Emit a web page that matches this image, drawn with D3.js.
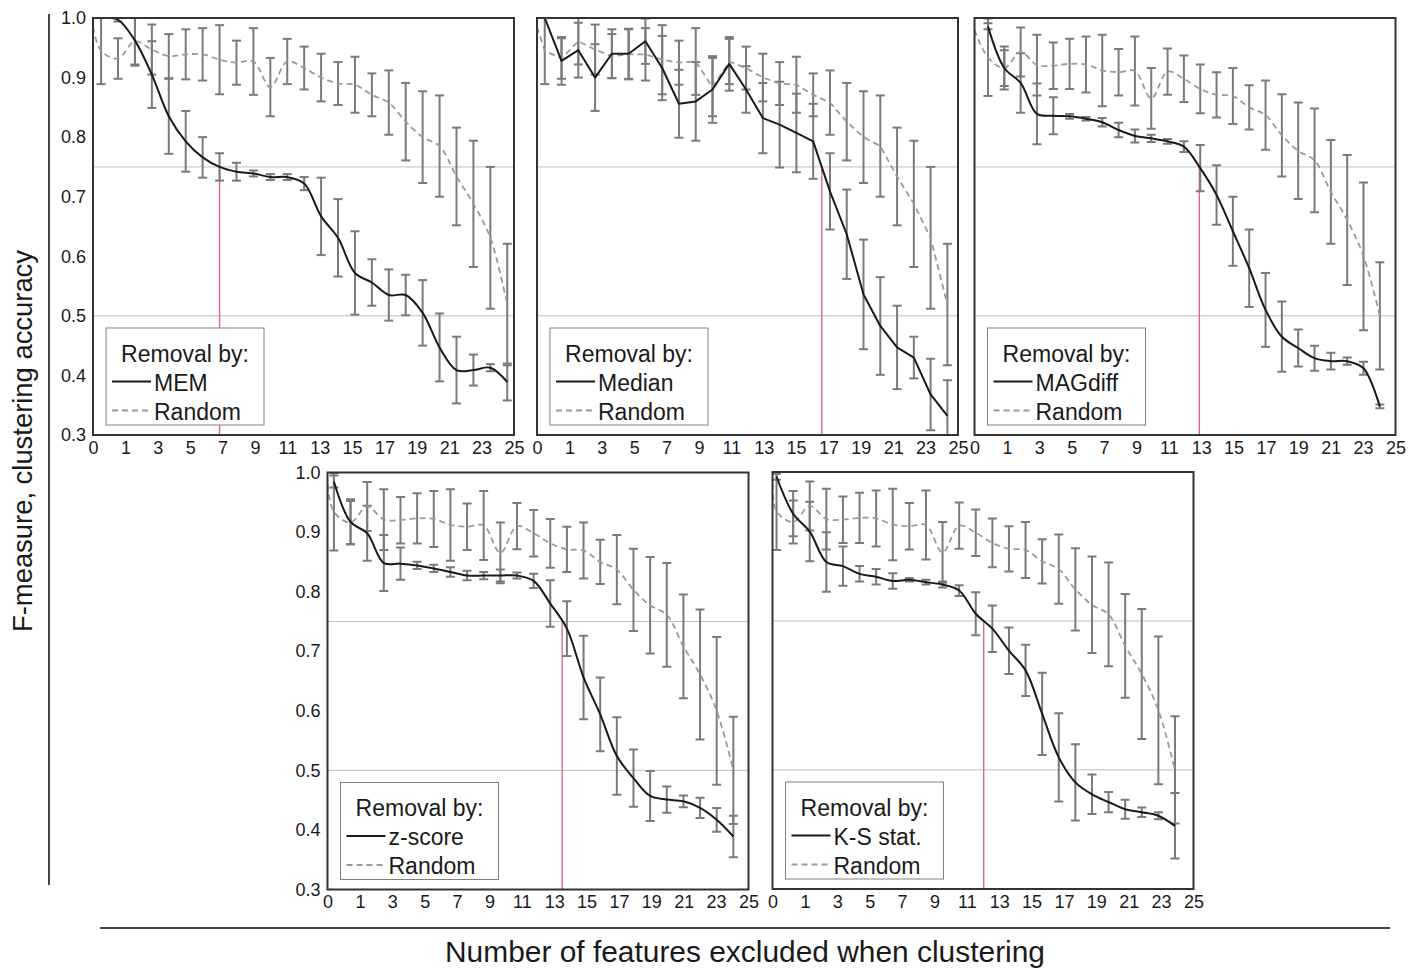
<!DOCTYPE html>
<html>
<head>
<meta charset="utf-8">
<script src="https://cdn.jsdelivr.net/npm/d3@7"></script>
<style>
  html, body { margin: 0; padding: 0; background: #fff; }
  svg { display: block; font-family: "Liberation Sans", Arial, Helvetica, sans-serif; }
</style>
</head>
<body>
<svg id="chart" width="1423" height="969"></svg>
<script>
// ---- data -------------------------------------------------------------
const featuresExcluded = [0, 1, 2, 3, 4, 5, 6, 7, 8, 9, 10, 11, 12, 13, 14, 15, 16, 17, 18, 19, 20, 21, 22, 23, 24];
const xTickLabels = ["0", "1", "3", "5", "7", "9", "11", "13", "15", "17", "19", "21", "23", "25"];
const yTickValues = [0.3, 0.4, 0.5, 0.6, 0.7, 0.8, 0.9, 1.0];
const referenceLevels = [0.75, 0.5];
const cutoffLevel = 0.75;

const methodNames = ["MEM", "Median", "MAGdiff", "z-score", "K-S stat."];

// random removal, run used alongside MEM and Median
const randomA      = [0.945, 0.932, 0.961, 0.947, 0.936, 0.939, 0.939, 0.930, 0.925, 0.927, 0.884, 0.927, 0.916, 0.900, 0.890, 0.888, 0.871, 0.858, 0.826, 0.800, 0.785, 0.734, 0.688, 0.631, 0.519];
const randomAErr   = [0.056, 0.034, 0.039, 0.042, 0.037, 0.042, 0.044, 0.058, 0.037, 0.056, 0.049, 0.038, 0.036, 0.040, 0.036, 0.047, 0.036, 0.054, 0.065, 0.077, 0.085, 0.082, 0.106, 0.119, 0.102];
const randomAStart = 0.985;

// random removal, run used alongside MAGdiff, z-score and K-S stat.
const randomB      = [0.934, 0.916, 0.943, 0.921, 0.920, 0.923, 0.922, 0.912, 0.909, 0.911, 0.865, 0.910, 0.898, 0.881, 0.871, 0.869, 0.850, 0.837, 0.803, 0.777, 0.761, 0.708, 0.661, 0.600, 0.500];
const randomBErr   = [0.065, 0.036, 0.041, 0.051, 0.039, 0.042, 0.047, 0.060, 0.039, 0.058, 0.051, 0.039, 0.039, 0.041, 0.038, 0.047, 0.037, 0.058, 0.069, 0.081, 0.087, 0.087, 0.109, 0.124, 0.090];
const randomBStart = 0.980;

const mem        = [1.000, 0.997, 0.962, 0.905, 0.835, 0.793, 0.766, 0.750, 0.742, 0.739, 0.733, 0.733, 0.722, 0.667, 0.631, 0.572, 0.556, 0.535, 0.535, 0.505, 0.447, 0.409, 0.409, 0.413, 0.389];
const memErr     = [0.000, 0.003, 0.042, 0.056, 0.063, 0.051, 0.034, 0.023, 0.015, 0.005, 0.005, 0.005, 0.011, 0.065, 0.065, 0.070, 0.039, 0.043, 0.034, 0.055, 0.057, 0.056, 0.026, 0.006, 0.031];

const median     = [1.000, 0.928, 0.946, 0.900, 0.940, 0.940, 0.961, 0.916, 0.856, 0.860, 0.880, 0.923, 0.880, 0.832, 0.821, 0.807, 0.793, 0.709, 0.637, 0.536, 0.483, 0.447, 0.430, 0.368, 0.332];
const medianErr  = [0.000, 0.040, 0.046, 0.056, 0.041, 0.042, 0.038, 0.054, 0.057, 0.066, 0.056, 0.045, 0.039, 0.059, 0.072, 0.066, 0.063, 0.064, 0.075, 0.092, 0.082, 0.070, 0.035, 0.060, 0.060];

const magdiff    = [0.986, 0.916, 0.891, 0.839, 0.836, 0.835, 0.831, 0.825, 0.812, 0.802, 0.798, 0.793, 0.784, 0.748, 0.703, 0.642, 0.580, 0.510, 0.465, 0.446, 0.429, 0.424, 0.424, 0.412, 0.348];
const magdiffErr = [0.005, 0.030, 0.050, 0.051, 0.031, 0.004, 0.003, 0.007, 0.012, 0.011, 0.006, 0.004, 0.009, 0.039, 0.050, 0.058, 0.065, 0.062, 0.059, 0.031, 0.021, 0.014, 0.006, 0.011, 0.003];

const zscore     = [0.985, 0.917, 0.898, 0.848, 0.847, 0.844, 0.839, 0.833, 0.827, 0.827, 0.827, 0.827, 0.818, 0.780, 0.738, 0.656, 0.594, 0.524, 0.487, 0.457, 0.451, 0.448, 0.437, 0.417, 0.389];
const zscoreErr  = [0.010, 0.038, 0.046, 0.047, 0.027, 0.006, 0.006, 0.008, 0.008, 0.006, 0.010, 0.005, 0.012, 0.039, 0.046, 0.070, 0.062, 0.065, 0.048, 0.042, 0.022, 0.010, 0.017, 0.020, 0.035];

const ksstat     = [0.992, 0.930, 0.900, 0.849, 0.842, 0.829, 0.824, 0.817, 0.819, 0.815, 0.811, 0.801, 0.762, 0.737, 0.700, 0.667, 0.594, 0.521, 0.479, 0.459, 0.446, 0.434, 0.429, 0.423, 0.406];
const ksstatErr  = [0.005, 0.038, 0.050, 0.050, 0.033, 0.013, 0.013, 0.013, 0.003, 0.004, 0.005, 0.009, 0.036, 0.039, 0.039, 0.043, 0.069, 0.074, 0.064, 0.033, 0.017, 0.016, 0.008, 0.006, 0.055];

// ---- layout -----------------------------------------------------------
const W = 421, H = 417;
const C = {
  frame: "#333", text: "#1a1a1a", method: "#1a1a1a", random: "#9a9a9a",
  errbar: "#7a7a7a", grid: "#bdbdbd", cutoff: "#e0607a", legendEdge: "#808080"
};

const panels = [
  { name: methodNames[0], values: mem,     err: memErr,     rnd: randomA, rndErr: randomAErr, rndStart: randomAStart, left: 93,    top: 18,    span: [0.48, 24.6],  yAxis: true,  smooth: true },
  { name: methodNames[1], values: median,  err: medianErr,  rnd: randomA, rndErr: randomAErr, rndStart: randomAStart, left: 537,   top: 18,    span: [0.46, 24.37], yAxis: false, smooth: false },
  { name: methodNames[2], values: magdiff, err: magdiffErr, rnd: randomB, rndErr: randomBErr, rndStart: randomBStart, left: 974.5, top: 18,    span: [0.80, 24.07], yAxis: false, smooth: true },
  { name: methodNames[3], values: zscore,  err: zscoreErr,  rnd: randomB, rndErr: randomBErr, rndStart: randomBStart, left: 327.5, top: 472.5, span: [0.38, 24.1],  yAxis: true,  smooth: true },
  { name: methodNames[4], values: ksstat,  err: ksstatErr,  rnd: randomB, rndErr: randomBErr, rndStart: randomBStart, left: 772.5, top: 472,   span: [0.24, 23.9],  yAxis: false, smooth: true }
];

const svg = d3.select("#chart");

// shared outer axis titles and rules
svg.append("line").attr("x1", 49).attr("x2", 49).attr("y1", 14).attr("y2", 885)
  .attr("stroke", "#444").attr("stroke-width", 2);
svg.append("line").attr("x1", 100).attr("x2", 1390).attr("y1", 928).attr("y2", 928)
  .attr("stroke", "#444").attr("stroke-width", 2);

svg.append("text")
  .attr("transform", "translate(32,441) rotate(-90)")
  .attr("text-anchor", "middle")
  .attr("font-size", 28).attr("fill", C.text)
  .attr("textLength", 382).attr("lengthAdjust", "spacingAndGlyphs")
  .text("F-measure, clustering accuracy");

svg.append("text")
  .attr("x", 745).attr("y", 962)
  .attr("text-anchor", "middle")
  .attr("font-size", 30).attr("fill", C.text)
  .attr("textLength", 600).attr("lengthAdjust", "spacingAndGlyphs")
  .text("Number of features excluded when clustering");

// first crossing of the method curve below the cutoff level (interpolated position)
function crossing(vals, level) {
  for (let k = 0; k < vals.length - 1; k++) {
    if (vals[k] >= level && vals[k + 1] < level) {
      const t = (vals[k] - level) / (vals[k] - vals[k + 1]);
      return featuresExcluded[k] + t * (featuresExcluded[k + 1] - featuresExcluded[k]);
    }
  }
  return null;
}

panels.forEach((p, i) => {
  const g = svg.append("g").attr("transform", `translate(${p.left},${p.top})`);

  const unit = d3.scaleLinear().domain([0, 25]).range([0, W]);
  const x = d3.scaleLinear()
    .domain([featuresExcluded[0], featuresExcluded[featuresExcluded.length - 1]])
    .range([unit(p.span[0]), unit(p.span[1])]);
  const y = d3.scaleLinear().domain([0.3, 1.0]).range([H, 0]);

  const clipId = "clip" + i;
  g.append("clipPath").attr("id", clipId)
    .append("rect").attr("x", 0).attr("y", 0).attr("width", W).attr("height", H);

  const plot = g.append("g").attr("clip-path", `url(#${clipId})`);

  // reference levels
  plot.selectAll("line.ref").data(referenceLevels).join("line")
    .attr("class", "ref")
    .attr("x1", 0).attr("x2", W)
    .attr("y1", d => y(d)).attr("y2", d => y(d))
    .attr("stroke", C.grid).attr("stroke-width", 1);

  // cutoff marker where the method curve falls below the level
  const cx = crossing(p.values, cutoffLevel);
  if (cx !== null) {
    plot.append("line")
      .attr("x1", x(cx)).attr("x2", x(cx))
      .attr("y1", y(cutoffLevel)).attr("y2", H)
      .attr("stroke", C.cutoff).attr("stroke-width", 1.3);
  }

  // error bars
  const capHalf = 4.5;
  function errorBars(vals, errs, cls) {
    const rows = featuresExcluded.map((f, k) => ({ f, v: vals[k], e: errs[k] }));
    const eg = plot.append("g").attr("class", cls)
      .attr("stroke", C.errbar).attr("stroke-width", 2).attr("fill", "none");
    const bar = eg.selectAll("g").data(rows).join("g");
    bar.append("line")
      .attr("x1", d => x(d.f)).attr("x2", d => x(d.f))
      .attr("y1", d => y(d.v + d.e)).attr("y2", d => y(d.v - d.e));
    bar.append("line")
      .attr("x1", d => x(d.f) - capHalf).attr("x2", d => x(d.f) + capHalf)
      .attr("y1", d => y(d.v + d.e)).attr("y2", d => y(d.v + d.e));
    bar.append("line")
      .attr("x1", d => x(d.f) - capHalf).attr("x2", d => x(d.f) + capHalf)
      .attr("y1", d => y(d.v - d.e)).attr("y2", d => y(d.v - d.e));
  }
  errorBars(p.rnd, p.rndErr, "err-random");
  errorBars(p.values, p.err, "err-method");

  const curve = p.smooth ? d3.curveCatmullRom.alpha(0.5) : d3.curveLinear;

  // random removal (dashed), starting from the left edge of the frame
  const rndPts = [{ f: x.invert(0), v: p.rndStart }]
    .concat(featuresExcluded.map((f, k) => ({ f, v: p.rnd[k] })));
  plot.append("path")
    .datum(rndPts)
    .attr("fill", "none")
    .attr("stroke", C.random).attr("stroke-width", 1.8)
    .attr("stroke-dasharray", "6,4")
    .attr("d", d3.line().curve(curve).x(d => x(d.f)).y(d => y(d.v)));

  // method-driven removal (solid)
  const mPts = featuresExcluded.map((f, k) => ({ f, v: p.values[k] }));
  plot.append("path")
    .datum(mPts)
    .attr("fill", "none")
    .attr("stroke", C.method).attr("stroke-width", 2)
    .attr("stroke-linejoin", "round")
    .attr("d", d3.line().curve(curve).x(d => x(d.f)).y(d => y(d.v)));

  // legend
  const lg = g.append("g").attr("transform", "translate(13,310)");
  lg.append("rect").attr("width", 158).attr("height", 97)
    .attr("fill", "#fff").attr("stroke", C.legendEdge).attr("stroke-width", 1);
  lg.append("text").attr("x", 79).attr("y", 33.5).attr("text-anchor", "middle")
    .attr("font-size", 23).attr("fill", C.text).text("Removal by:");
  lg.append("line").attr("x1", 6).attr("x2", 45).attr("y1", 53.5).attr("y2", 53.5)
    .attr("stroke", C.method).attr("stroke-width", 2);
  lg.append("text").attr("x", 48).attr("y", 62.5)
    .attr("font-size", 23).attr("fill", C.text).text(p.name);
  lg.append("line").attr("x1", 6).attr("x2", 45).attr("y1", 82.5).attr("y2", 82.5)
    .attr("stroke", C.random).attr("stroke-width", 1.8).attr("stroke-dasharray", "6,4");
  lg.append("text").attr("x", 48).attr("y", 91.5)
    .attr("font-size", 23).attr("fill", C.text).text("Random");

  // frame
  g.append("rect").attr("width", W).attr("height", H)
    .attr("fill", "none").attr("stroke", C.frame).attr("stroke-width", 2);

  // x tick labels
  const xLab = d3.scalePoint().domain(xTickLabels).range([0, W]);
  const xa = g.append("g").attr("transform", `translate(0,${H})`)
    .call(d3.axisBottom(xLab).tickSize(0).tickPadding(6));
  xa.select(".domain").remove();
  xa.selectAll("text").attr("font-size", 18).attr("fill", C.text)
    .attr("font-family", "Liberation Sans, Arial, sans-serif");

  // y tick labels
  if (p.yAxis) {
    const ya = g.append("g")
      .call(d3.axisLeft(y).tickValues(yTickValues).tickFormat(d3.format(".1f")).tickSize(0).tickPadding(7));
    ya.select(".domain").remove();
    ya.selectAll("text").attr("font-size", 18).attr("fill", C.text)
      .attr("font-family", "Liberation Sans, Arial, sans-serif");
  }
});
</script>
</body>
</html>
